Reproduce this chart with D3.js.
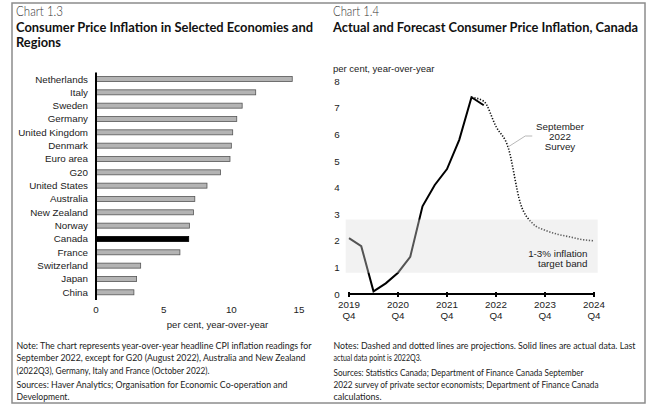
<!DOCTYPE html>
<html><head><meta charset="utf-8">
<script src="https://cdn.jsdelivr.net/npm/d3@7"></script>
<style>
html,body{margin:0;padding:0;background:#fff;}
svg{display:block;}
</style></head>
<body>
<svg id="c" width="660" height="413"></svg>
<script>
// ---------- Data ----------
const categories = ["Netherlands","Italy","Sweden","Germany","United Kingdom","Denmark","Euro area","G20","United States","Australia","New Zealand","Norway","Canada","France","Switzerland","Japan","China"];
const cpiValues = [14.5,11.8,10.8,10.4,10.1,10.0,9.9,9.2,8.2,7.3,7.2,6.9,6.85,6.2,3.3,3.0,2.8];
const barTicks = [0,5,10,15];

const quarters = ["2019Q4","2020Q1","2020Q2","2020Q3","2020Q4","2021Q1","2021Q2","2021Q3","2021Q4","2022Q1","2022Q2","2022Q3","2022Q4","2023Q1","2023Q2","2023Q3","2023Q4","2024Q1","2024Q2","2024Q3","2024Q4"];
const actualValues = [2.1,1.8,0.1,0.4,0.8,1.4,3.3,4.1,4.7,5.8,7.4,7.1];          // 2019Q4 - 2022Q3
const surveyQuarters = ["2022Q2","2022Q3","2022Q4","2023Q1","2023Q2","2023Q3","2023Q4","2024Q1","2024Q2","2024Q3","2024Q4"];
const surveyValues = [7.4,7.25,6.3,5.5,3.4,2.65,2.4,2.25,2.15,2.05,2.0];
const bandRange = [0.8, 2.8];
const lineTicks = [0,1,2,3,4,5,6,7,8];
const yearTickLabels = ["2019","2020","2021","2022","2023","2024"];
const yearTickQuarters = ["2019Q4","2020Q4","2021Q4","2022Q4","2023Q4","2024Q4"];

const notesLeft = [
 ["Note: The chart represents year-over-year headline CPI inflation readings for", 295],
 ["September 2022, except for G20 (August 2022), Australia and New Zealand", 289],
 ["(2022Q3), Germany, Italy and France (October 2022).", 193],
 ["Sources: Haver Analytics; Organisation for Economic Co-operation and", 271],
 ["Development.", 53]
];
const notesRight = [
 ["Notes: Dashed and dotted lines are projections. Solid lines are actual data. Last", 302],
 ["actual data point is 2022Q3.", 88],
 ["Sources: Statistics Canada; Department of Finance Canada September", 250],
 ["2022 survey of private sector economists; Department of Finance Canada", 265],
 ["calculations.", 48]
];

// ---------- Drawing ----------
const svg = d3.select("#c");
const ARIAL = "'Liberation Sans', Arial, sans-serif";
const UI = "Lato, 'Open Sans', sans-serif";

// frame
svg.append("rect").attr("x",12).attr("y",3).attr("width",633).attr("height",400)
  .attr("fill","none").attr("stroke","#8c8c8c").attr("stroke-width",1.5);

function fitText(g, x, y, str, width, size, weight, color){
  const t = g.append("text").attr("x",x).attr("y",y).text(str)
    .attr("font-family",UI).attr("font-size",size).attr("font-weight",weight).attr("fill",color);
  if (width) t.attr("textLength",width).attr("lengthAdjust","spacingAndGlyphs");
  return t;
}

// Titles
fitText(svg,16,15.5,"Chart 1.3",47,12.8,300,"#333");
fitText(svg,16,31.5,"Consumer Price Inflation in Selected Economies and",297,13,700,"#111");
fitText(svg,16,46.5,"Regions",45,13,700,"#111");
fitText(svg,333,15.5,"Chart 1.4",46,12.8,300,"#333");
fitText(svg,333,31.5,"Actual and Forecast Consumer Price Inflation, Canada",305,13,700,"#111");

// Notes
const nl = [349, 361.5, 374, 388, 400];
notesLeft.forEach((d,i)=>fitText(svg,16.5,nl[i]-0.5,d[0],d[1],9.2,400,"#222"));
const nr = [349, 361.5, 376, 388, 400];
notesRight.forEach((d,i)=>fitText(svg,333.5,nr[i]-0.5,d[0],d[1],9.2,400,"#222"));

// ---------- Bar chart ----------
const xb = d3.scaleLinear().domain([0,15]).range([96,299]);
const yb = d3.scalePoint().domain(categories).range([79,292.3]);
const gb = svg.append("g");
gb.selectAll("rect.bar").data(categories).join("rect")
  .attr("class","bar")
  .attr("x",xb(0)).attr("y",d=>yb(d)-2.5)
  .attr("width",(d,i)=>xb(cpiValues[i])-xb(0)).attr("height",5)
  .attr("fill",d=>d==="Canada"?"#000":"#b4b4b4")
  .attr("stroke",d=>d==="Canada"?"#000":"#555").attr("stroke-width",0.8);
gb.selectAll("text.cat").data(categories).join("text")
  .attr("class","cat").attr("x",88).attr("y",d=>yb(d)+3.5)
  .attr("text-anchor","end").attr("font-family",ARIAL).attr("font-size",9.8).attr("fill","#222")
  .text(d=>d);
gb.append("line").attr("x1",xb(0)).attr("x2",xb(0)).attr("y1",72.5).attr("y2",300)
  .attr("stroke","#000").attr("stroke-width",2);
gb.selectAll("text.tick").data(barTicks).join("text")
  .attr("class","tick").attr("x",d=>xb(d)).attr("y",312.5).attr("text-anchor","middle")
  .attr("font-family",ARIAL).attr("font-size",9.8).attr("fill","#222").text(d=>d);
gb.append("text").attr("x",217.5).attr("y",327.5).attr("text-anchor","middle")
  .attr("font-family",ARIAL).attr("font-size",9.5).attr("fill","#222").text("per cent, year-over-year");

// ---------- Line chart ----------
const xl = d3.scalePoint().domain(quarters).range([349,594]);
const yl = d3.scaleLinear().domain([0,8]).range([294,81.3]);
const gl = svg.append("g");

gl.append("text").attr("x",333).attr("y",71.5).attr("font-family",ARIAL).attr("font-size",9.5)
  .attr("fill","#222").text("per cent, year-over-year");
gl.selectAll("text.yt").data(lineTicks).join("text").attr("class","yt")
  .attr("x",337).attr("y",d=>yl(d)+3.5).attr("text-anchor","middle")
  .attr("font-family",ARIAL).attr("font-size",9.8).attr("fill","#222").text(d=>d);

const line = d3.line().x(d=>xl(d[0])).y(d=>yl(d[1]));
gl.append("path").datum(quarters.slice(0,actualValues.length).map((q,i)=>[q,actualValues[i]]))
  .attr("d",line).attr("fill","none").attr("stroke","#000").attr("stroke-width",2).attr("stroke-linejoin","miter");
gl.append("path").datum(surveyQuarters.map((q,i)=>[q,surveyValues[i]]))
  .attr("d",line.curve(d3.curveMonotoneX)).attr("fill","none").attr("stroke","#111")
  .attr("stroke-width",1.6).attr("stroke-dasharray","1.3,1.6");

// band (drawn on top, semi-transparent)
gl.append("rect").attr("x",345.7).attr("width",252).attr("y",yl(bandRange[1]))
  .attr("height",yl(bandRange[0])-yl(bandRange[1])).attr("fill","rgb(221,221,221)").attr("fill-opacity",0.38);
gl.append("text").attr("x",587.5).attr("y",256.5).attr("text-anchor","end").attr("font-family",ARIAL)
  .attr("font-size",9.8).attr("fill","#222").text("1-3% inflation");
gl.append("text").attr("x",587.5).attr("y",267).attr("text-anchor","end").attr("font-family",ARIAL)
  .attr("font-size",9.8).attr("fill","#222").text("target band");

// survey annotation
gl.append("path").attr("d",`M${xl("2022Q4")+12},147 L${xl("2023Q1")+17},136 L${xl("2023Q1")+24},136`)
  .attr("fill","none").attr("stroke","#b0b0b0").attr("stroke-width",0.9);
["September","2022","Survey"].forEach((s,i)=>gl.append("text").attr("x",560).attr("y",130+i*10.2)
  .attr("text-anchor","middle").attr("font-family",ARIAL).attr("font-size",9.8).attr("fill","#222").text(s));

// x axis
gl.append("line").attr("x1",349).attr("x2",594).attr("y1",294).attr("y2",294).attr("stroke","#000").attr("stroke-width",2.2);
gl.selectAll("line.xt").data(yearTickQuarters).join("line").attr("class","xt")
  .attr("x1",d=>xl(d)).attr("x2",d=>xl(d)).attr("y1",292).attr("y2",297).attr("stroke","#000").attr("stroke-width",2);
gl.selectAll("text.xy").data(yearTickQuarters).join("text").attr("class","xy")
  .attr("x",d=>xl(d)).attr("y",308).attr("text-anchor","middle").attr("font-family",ARIAL)
  .attr("font-size",9.8).attr("fill","#222").text((d,i)=>yearTickLabels[i]);
gl.selectAll("text.xq").data(yearTickQuarters).join("text").attr("class","xq")
  .attr("x",d=>xl(d)).attr("y",318.5).attr("text-anchor","middle").attr("font-family",ARIAL)
  .attr("font-size",9.8).attr("fill","#222").text(d=>d.slice(4));
</script>
</body></html>
